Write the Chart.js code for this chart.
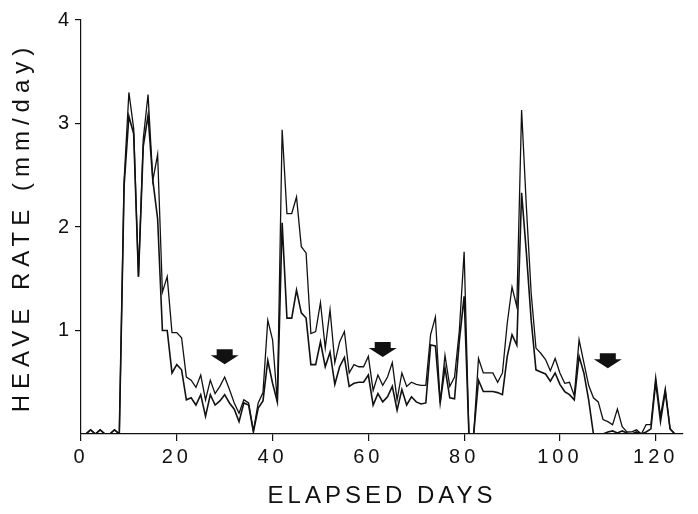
<!DOCTYPE html>
<html>
<head>
<meta charset="utf-8">
<script src="https://cdn.jsdelivr.net/npm/chart.js@4/dist/chart.umd.min.js"></script>
<style>
  html, body { margin: 0; padding: 0; background: #ffffff; }
  #wrap { width: 698px; height: 514px; }
</style>
</head>
<body>
<div id="wrap"><canvas id="c" width="698" height="514"></canvas></div>
<script>
// ---- data ----
const days = [0,1,2,3,4,5,6,7,8,9,10,11,12,13,14,15,16,17,18,19,20,21,22,23,24,25,26,27,28,29,
  30,31,32,33,34,35,36,37,38,39,40,41,42,43,44,45,46,47,48,49,50,51,52,53,54,55,56,57,58,59,
  60,61,62,63,64,65,66,67,68,69,70,71,72,73,74,75,76,77,78,79,80,81,82,83,84,85,86,87,88,89,
  90,91,92,93,94,95,96,97,98,99,100,101,102,103,104,105,106,107,108,109,110,111,112,113,114,
  115,116,117,118,119,120,121,122,123,124];

const upperRate = [0,0,0.04,0,0.04,0,0,0.04,0,2.45,3.3,2.95,1.52,2.85,3.28,2.45,2.7,1.37,1.52,0.98,
  0.98,0.93,0.55,0.52,0.45,0.57,0.33,0.52,0.39,0.46,0.55,0.43,0.3,0.2,0.33,0.3,0.03,0.3,0.4,1.1,
  0.91,0.31,2.94,2.13,2.13,2.29,1.81,1.75,0.97,0.99,1.27,0.83,1.2,0.69,0.89,0.99,0.59,0.67,0.65,0.65,
  0.75,0.42,0.57,0.47,0.55,0.69,0.33,0.59,0.46,0.5,0.48,0.47,0.47,0.96,1.13,0.3,0.76,0.46,0.55,1.0,
  1.76,0,0,0.73,0.59,0.59,0.59,0.5,0.59,1.07,1.42,1.23,3.13,2.19,1.36,0.83,0.78,0.72,0.61,0.73,
  0.59,0.49,0.5,0.37,0.91,0.69,0.47,0.35,0.31,0.14,0.12,0.09,0.24,0.07,0.02,0.02,0.04,0,0.09,0.09,
  0.55,0.17,0.44,0.05,0];

const lowerRate = [0,0,0.04,0,0.04,0,0,0.04,0,2.4,3.07,2.9,1.52,2.78,3.08,2.45,2.08,1.0,1.0,0.59,
  0.67,0.62,0.33,0.35,0.28,0.38,0.17,0.38,0.28,0.32,0.38,0.3,0.24,0.12,0.3,0.28,0.02,0.25,0.32,0.71,
  0.49,0.31,2.04,1.12,1.12,1.39,1.17,1.12,0.67,0.67,0.89,0.65,0.79,0.48,0.65,0.74,0.46,0.49,0.5,0.5,
  0.57,0.28,0.39,0.31,0.36,0.46,0.23,0.43,0.28,0.36,0.31,0.29,0.3,0.86,0.85,0.3,0.64,0.35,0.34,0.9,
  1.33,0,0,0.52,0.41,0.41,0.41,0.4,0.38,0.75,0.96,0.86,2.33,1.75,1.1,0.62,0.6,0.58,0.51,0.59,
  0.48,0.41,0.38,0.33,0.75,0.59,0.33,0,0,0,0.02,0.03,0.01,0.03,0.01,0,0.02,0,0.02,0.05,
  0.5,0.12,0.41,0.05,0];

const xTickValues = [0, 20, 40, 60, 80, 100, 120];
const yTickValues = [1, 2, 3, 4];

// arrow annotations (day, heave-rate level of arrow top)
const arrowDays = [30, 63, 110];
const arrowLevels = [0.82, 0.89, 0.78];

// ---- chart ----
const INK = '#111111';

const spacingPlugin = {
  id: 'spacing',
  beforeDraw(chart) {
    chart.ctx.letterSpacing = '4px';
    const s = chart.scales.y;
    if (s && !s._wideTitle) {
      const orig = s.drawTitle.bind(s);
      s.drawTitle = function () {
        const c = this.ctx;
        const prev = c.letterSpacing;
        c.letterSpacing = '6px';
        orig();
        c.letterSpacing = prev;
      };
      s._wideTitle = true;
    }
  }
};

const arrowPlugin = {
  id: 'arrows',
  afterDatasetsDraw(chart) {
    const ctx = chart.ctx;
    const xs = chart.scales.x, ys = chart.scales.y;
    ctx.save();
    ctx.fillStyle = INK;
    arrowDays.forEach((d, i) => {
      const cx = xs.getPixelForValue(d);
      const top = ys.getPixelForValue(arrowLevels[i]);
      const shaftW = 16, shaftH = 6, headW = 28, headH = 9;
      ctx.beginPath();
      ctx.moveTo(cx - shaftW / 2, top);
      ctx.lineTo(cx + shaftW / 2, top);
      ctx.lineTo(cx + shaftW / 2, top + shaftH);
      ctx.lineTo(cx + headW / 2, top + shaftH);
      ctx.lineTo(cx, top + shaftH + headH);
      ctx.lineTo(cx - headW / 2, top + shaftH);
      ctx.lineTo(cx - shaftW / 2, top + shaftH);
      ctx.closePath();
      ctx.fill();
    });
    ctx.restore();
  }
};

new Chart(document.getElementById('c'), {
  type: 'line',
  data: {
    datasets: [
      {
        label: 'upper',
        data: days.map((d, i) => ({ x: d, y: upperRate[i] })),
        borderColor: INK,
        borderWidth: 1.3,
        pointRadius: 0,
        tension: 0,
        fill: false
      },
      {
        label: 'lower',
        data: days.map((d, i) => ({ x: d, y: lowerRate[i] })),
        borderColor: INK,
        borderWidth: 1.6,
        pointRadius: 0,
        tension: 0,
        fill: false
      }
    ]
  },
  options: {
    responsive: false,
    animation: false,
    devicePixelRatio: 1,
    layout: { padding: { top: 20, right: 15, left: 0, bottom: 0 } },
    plugins: {
      legend: { display: false },
      tooltip: { enabled: false }
    },
    scales: {
      x: {
        type: 'linear',
        min: 0,
        max: 125.7,
        afterBuildTicks: (axis) => { axis.ticks = xTickValues.map(v => ({ value: v })); },
        afterFit: (s) => { s.height = 80; },
        grid: { drawOnChartArea: false, drawTicks: true, tickLength: 7, color: INK, lineWidth: 1.2 },
        border: { display: true, color: INK, width: 1.2 },
        ticks: {
          color: INK,
          padding: 4,
          maxRotation: 0,
          autoSkip: false,
          font: { family: 'Liberation Sans', size: 20 },
          callback: (v) => String(v)
        },
        title: {
          display: true,
          text: 'ELAPSED DAYS',
          color: INK,
          font: { family: 'Liberation Sans', size: 24 },
          padding: { top: 0, bottom: 3 }
        }
      },
      y: {
        type: 'linear',
        min: 0,
        max: 4,
        afterBuildTicks: (axis) => { axis.ticks = yTickValues.map(v => ({ value: v })); },
        afterFit: (s) => { s.width = 81; },
        grid: { drawOnChartArea: false, drawTicks: true, tickLength: 6, color: INK, lineWidth: 1.2 },
        border: { display: true, color: INK, width: 1.2 },
        ticks: {
          color: INK,
          padding: 2,
          font: { family: 'Liberation Sans', size: 20 },
          callback: (v) => String(v)
        },
        title: {
          display: true,
          text: 'HEAVE RATE (mm/day)',
          color: INK,
          font: { family: 'Liberation Sans', size: 24 },
          padding: { top: 8, bottom: 0 }
        }
      }
    }
  },
  plugins: [spacingPlugin, arrowPlugin]
});
</script>
</body>
</html>
